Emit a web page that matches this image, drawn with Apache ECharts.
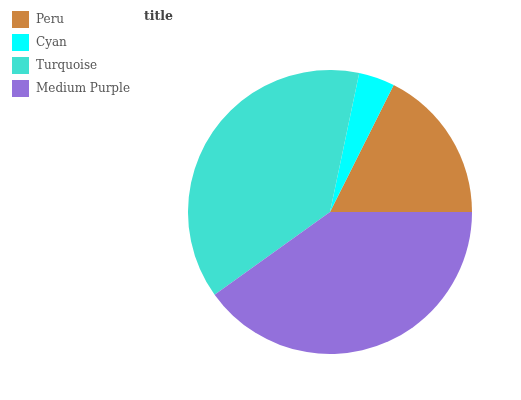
<!DOCTYPE html>
<html>
<head>
<meta charset="utf-8">
<script src="https://cdn.jsdelivr.net/npm/echarts@6/dist/echarts.min.js"></script>
<style>
  html, body { margin: 0; padding: 0; background: #fff; }
  #chart { width: 521px; height: 400px; }
</style>
</head>
<body>
<div id="chart"></div>
<script>
// pie data (percent)
var names = ['Peru', 'Cyan', 'Turquoise', 'Medium Purple'];
var values = [17.6, 4.1, 38.2, 40.1];
var colors = ['#CD853F', '#00FFFF', '#40E0D0', '#9370DB'];

var serif = "'DejaVu Serif', 'Liberation Serif', serif";

var chart = echarts.init(document.getElementById('chart'));
var option = {
  animation: false,
  color: colors,
  title: {
    text: 'title',
    left: 139,
    top: 5,
    textStyle: { fontFamily: serif, fontSize: 12.5, fontWeight: 'bold', color: '#444' }
  },
  legend: {
    orient: 'vertical',
    left: 7,
    top: 6,
    itemWidth: 17,
    itemHeight: 17,
    itemGap: 6,
    icon: 'rect',
    data: names,
    textStyle: { fontFamily: serif, fontSize: 12, color: '#555', padding: [0, 0, 0, 2] }
  },
  series: [{
    type: 'pie',
    center: [330, 212],
    radius: 142,
    startAngle: 0,
    clockwise: false,
    label: { show: false },
    labelLine: { show: false },
    data: names.map(function (n, i) { return { name: n, value: values[i] }; })
  }]
};
chart.setOption(option);
</script>
</body>
</html>
